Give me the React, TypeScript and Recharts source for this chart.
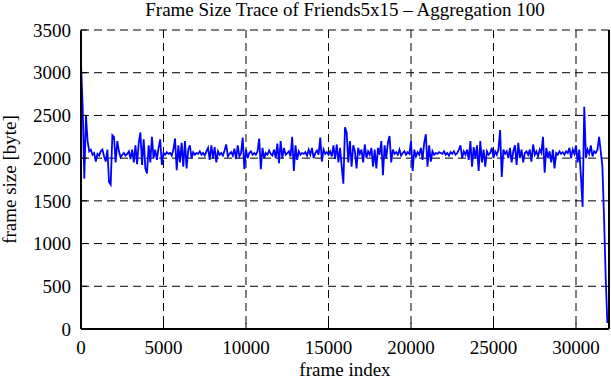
import React from "react";
import { LineChart, Line, XAxis, YAxis, CartesianGrid } from "recharts";

const AGGREGATION = 100;

// Aggregated frame sizes [byte], one value per 100 frames (frame index 0, 100, 200, ...)
const frameSizes: number[] = [
  // 0 - 1900
  3120, 2600, 1760, 2500, 2200, 2080, 2100, 2040, 2060, 1960, 2050, 2030, 2080, 2100, 2020, 1960, 2100, 1720, 1690, 2270,
  // 2000 - 3900
  2250, 1950, 2200, 2080, 2010, 2040, 2060, 2030, 2050, 2080, 1990, 2100, 1950, 2150, 1930, 2180, 2300, 1920, 2220, 1880,
  // 4000 - 5900
  1820, 2150, 1950, 2250, 2000, 2100, 1980, 2120, 2220, 1920, 2060, 2040, 2070, 2050, 2060, 2030, 2100, 2230, 1860, 2150,
  // 6000 - 7900
  1950, 2180, 1900, 2200, 1880, 2100, 2150, 2000, 2070, 2040, 2060, 2050, 2080, 2040, 2060, 2030, 2080, 2120, 1980, 2150,
  // 8000 - 9900
  2000, 2130, 1950, 2080, 2040, 2060, 2030, 2090, 2160, 2020, 2050, 2070, 2030, 2110, 1990, 2150, 2020, 2060, 2240, 1870,
  // 10000 - 11900
  2100, 2000, 2060, 2080, 2040, 2060, 2040, 2080, 2230, 1870, 2120, 2000, 2060, 2040, 2090, 2050, 2030, 2100, 2000, 2170,
  // 12000 - 13900
  1940, 2200, 2000, 2120, 2040, 2060, 2080, 2020, 2250, 1850, 2150, 1980, 2080, 2040, 2060, 2050, 2070, 2030, 2100, 2040,
  // 14000 - 15900
  2120, 2000, 2060, 2090, 2040, 2240, 1960, 2100, 2050, 2070, 2040, 2080, 2020, 2150, 1990, 2160, 1950, 2120, 1900, 1700,
  // 16000 - 17900
  2360, 2300, 1950, 2200, 1900, 2150, 2080, 1880, 2120, 2050, 2100, 1950, 2160, 2000, 2080, 2040, 2120, 1900, 2100, 1880,
  // 18000 - 19900
  2120, 2040, 2200, 1800, 2150, 2000, 2180, 2260, 1950, 2100, 2050, 2070, 2040, 2100, 2030, 2060, 2080, 2040, 2070, 2050,
  // 20000 - 21900
  2200, 1850, 2100, 2020, 2070, 2040, 2120, 1980, 2180, 2280, 1900, 2150, 1960, 2080, 2040, 2060, 2050, 2070, 2060, 2050,
  // 22000 - 23900
  2080, 2040, 2060, 2030, 2070, 2050, 2080, 2040, 2060, 2100, 2150, 2000, 2080, 2040, 2100, 1980, 2200, 1900, 2130, 2000,
  // 24000 - 25900
  2150, 1850, 2200, 1950, 2100, 1900, 2080, 2040, 2060, 2120, 2000, 2080, 2040, 2100, 2330, 1780, 2100, 2050, 2080, 2000,
  // 26000 - 27900
  2120, 1950, 2080, 2150, 1920, 2180, 2000, 2100, 1950, 2060, 2080, 2040, 2100, 1960, 2160, 2040, 2080, 2020, 2100, 2060,
  // 28000 - 29900
  2250, 1830, 2120, 2000, 2080, 1950, 2100, 1880, 2060, 2040, 2080, 2050, 2070, 2040, 2080, 2060, 2120, 2000, 2100, 2050,
  // 30000 - 31900
  2150, 1950, 2100, 1780, 1430, 2600, 2000, 2100, 2050, 2150, 2020, 2080, 2060, 2100, 2250, 2080, 1900, 1300, 600, 70,
];

const xTicks = [0, 5000, 10000, 15000, 20000, 25000, 30000];
const yTicks = [0, 500, 1000, 1500, 2000, 2500, 3000, 3500];

const data = frameSizes.map((size, i) => ({ frame: i * AGGREGATION, size }));

const FONT = "'Liberation Serif', 'Times New Roman', serif";
const FS = 19;

export default function App() {
  const tickStyle = { fontFamily: FONT, fontSize: FS, fill: "#000" };
  const tickLine = { stroke: "#000", strokeWidth: 1 };
  const axisLine = { stroke: "#000", strokeWidth: 2 };
  return (
    <div style={{ position: "absolute", left: 0, top: 0, width: 611, height: 380, background: "#fff" }}>
      <LineChart
        width={611}
        height={380}
        data={data}
        margin={{ top: 30, right: 0, bottom: 0, left: 0 }}
      >
        <CartesianGrid stroke="#000" strokeDasharray="8 5" strokeWidth={1} />
        <XAxis
          xAxisId={0}
          dataKey="frame"
          type="number"
          domain={[0, 32000]}
          ticks={xTicks}
          allowDataOverflow
          height={51}
          tickLine={tickLine}
          tickSize={-6}
          tickMargin={18}
          axisLine={axisLine}
          tick={tickStyle}
        />
        <XAxis
          xAxisId="top"
          orientation="top"
          dataKey="frame"
          type="number"
          domain={[0, 32000]}
          ticks={xTicks}
          allowDataOverflow
          height={0}
          tickLine={tickLine}
          tickSize={-6}
          axisLine={axisLine}
          tick={false}
        />
        <YAxis
          yAxisId={0}
          type="number"
          domain={[0, 3500]}
          ticks={yTicks}
          allowDataOverflow
          width={81}
          tickLine={tickLine}
          tickSize={-6}
          tickMargin={16}
          axisLine={axisLine}
          tick={tickStyle}
        />
        <YAxis
          yAxisId="right"
          orientation="right"
          type="number"
          domain={[0, 3500]}
          ticks={yTicks}
          allowDataOverflow
          width={2}
          tickLine={tickLine}
          tickSize={-6}
          axisLine={axisLine}
          tick={false}
        />
        <Line
          xAxisId={0}
          yAxisId={0}
          type="linear"
          dataKey="size"
          stroke="#0000ff"
          strokeWidth={1.8}
          dot={false}
          isAnimationActive={false}
        />
      </LineChart>
      <div
        style={{
          position: "absolute", left: 81, width: 528, top: 0, textAlign: "center",
          fontFamily: FONT, fontSize: FS, lineHeight: "19px", color: "#000", whiteSpace: "nowrap",
        }}
      >
        Frame Size Trace of Friends5x15 – Aggregation 100
      </div>
      <div
        style={{
          position: "absolute", left: 81, width: 528, top: 360, textAlign: "center",
          fontFamily: FONT, fontSize: FS, lineHeight: "19px", color: "#000", whiteSpace: "nowrap",
        }}
      >
        frame index
      </div>
      <div
        style={{
          position: "absolute", left: 9, top: 180, width: 0, height: 0,
        }}
      >
        <div
          style={{
            position: "absolute", left: -100, top: -10, width: 200, textAlign: "center",
            transform: "rotate(-90deg)", fontFamily: FONT, fontSize: FS, lineHeight: "19px",
            color: "#000", whiteSpace: "nowrap",
          }}
        >
          frame size [byte]
        </div>
      </div>
    </div>
  );
}
